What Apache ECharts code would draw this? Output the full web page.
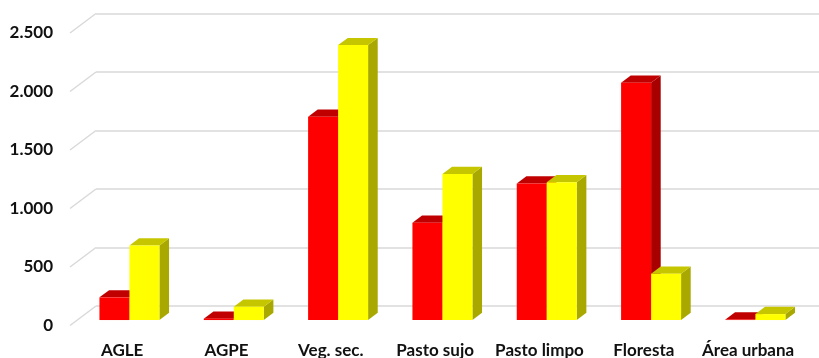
<!DOCTYPE html>
<html>
<head>
<meta charset="utf-8">
<script src="https://cdn.jsdelivr.net/npm/echarts@6/dist/echarts.min.js"></script>
<style>
  html, body { margin: 0; padding: 0; background: #ffffff; }
  #chart { width: 819px; height: 358px; }
</style>
</head>
<body>
<div id="chart"></div>
<script>
// Land-use classes and the two series compared per class
const categories = ['AGLE', 'AGPE', 'Veg. sec.', 'Pasto sujo', 'Pasto limpo', 'Floresta', 'Área urbana'];
const seriesRed = [194, 12, 1738, 832, 1168, 2028, 5];
const seriesYellow = [638, 114, 2350, 1248, 1177, 396, 51];
const yTicks = [0, 500, 1000, 1500, 2000, 2500];

// Oblique 3D projection: floor depth vector running from the front edge to the back wall
const WALL_DEPTH = [26, -19.5];
const BAR_FRONT = 0.72;   // bar front face, as a fraction of the depth measured from the back wall
const BAR_DEPTH = 0.37;   // bar thickness, as a fraction of the floor depth
const BAR_WIDTH = 0.2875; // each bar, as a fraction of the category band
const PLOT_WIDTH = 730.3; // width of the category run (back wall and front plane)

const RED = { front: '#ff0000', top: '#c00000', side: '#a80000' };
const YELLOW = { front: '#ffff00', top: '#c6c600', side: '#a8a800' };
const GRID_COLOR = '#d9d9d9';
const FONT = 'Lato, "Open Sans", sans-serif';

const fmt = v => String(v).replace(/\B(?=(\d{3})+(?!\d))/g, '.');

// Draws one 3D column: side face, top face, then the front face
function columnRenderer(side, colors) {
  return function (params, api) {
    const idx = api.value(0);
    const val = api.value(1);
    const base = api.coord([idx, 0]);
    const top = api.coord([idx, val]);
    const w = api.size([1, 0])[0] * BAR_WIDTH;
    const ox = -WALL_DEPTH[0] * BAR_FRONT;
    const oy = -WALL_DEPTH[1] * BAR_FRONT;
    const dx = WALL_DEPTH[0] * BAR_DEPTH;
    const dy = WALL_DEPTH[1] * BAR_DEPTH;
    const x0 = base[0] + ox + (side < 0 ? -w : 0);
    const x1 = x0 + w;
    const yb = base[1] + oy;
    const yt = top[1] + oy;
    return {
      type: 'group',
      children: [
        { type: 'polygon', shape: { points: [[x1, yb], [x1 + dx, yb + dy], [x1 + dx, yt + dy], [x1, yt]] },
          style: { fill: colors.side } },
        { type: 'polygon', shape: { points: [[x0, yt], [x0 + dx, yt + dy], [x1 + dx, yt + dy], [x1, yt]] },
          style: { fill: colors.top } },
        { type: 'rect', shape: { x: x0, y: yt, width: w, height: Math.max(yb - yt, 0) },
          style: { fill: colors.front } }
      ]
    };
  };
}

// Side wall: one diagonal per tick from the back wall's left edge to the front
function sideWallRenderer(params, api) {
  const p = api.coord([0, api.value(1)]);
  const x = params.coordSys.x;
  return {
    type: 'line',
    shape: { x1: x - WALL_DEPTH[0], y1: p[1] - WALL_DEPTH[1], x2: x, y2: p[1] },
    style: { stroke: GRID_COLOR, lineWidth: 1.5 }
  };
}

const chart = echarts.init(document.getElementById('chart'), null, { renderer: 'canvas' });

chart.setOption({
  animation: false,
  backgroundColor: '#ffffff',
  grid: [
    // back wall (runs past the right edge of the canvas)
    { left: 96, width: PLOT_WIDTH, top: 13.5, bottom: 52, outerBoundsMode: 'none' },
    // front plane (axis labels)
    { left: 70, width: PLOT_WIDTH, top: 33, bottom: 32.5, outerBoundsMode: 'none' }
  ],
  xAxis: [
    { type: 'category', gridIndex: 0, data: categories,
      axisLine: { show: false }, axisTick: { show: false }, axisLabel: { show: false } },
    { type: 'category', gridIndex: 1, data: categories,
      axisLine: { show: false }, axisTick: { show: false },
      axisLabel: { interval: 0, margin: 17, color: '#111', fontFamily: FONT, fontWeight: 'bold', fontSize: 17 } }
  ],
  yAxis: [
    { type: 'value', gridIndex: 0, min: 0, max: 2500, interval: 500,
      axisLine: { show: false }, axisTick: { show: false }, axisLabel: { show: false },
      splitLine: { show: true, lineStyle: { color: GRID_COLOR, width: 1.5 } } },
    { type: 'value', gridIndex: 1, min: 0, max: 2500, interval: 500,
      axisLine: { show: false }, axisTick: { show: false }, splitLine: { show: false },
      axisLabel: { margin: 17, color: '#111', fontFamily: FONT, fontWeight: 'bold', fontSize: 17,
        formatter: fmt } }
  ],
  series: [
    { type: 'custom', xAxisIndex: 0, yAxisIndex: 0, silent: true,
      renderItem: sideWallRenderer,
      data: yTicks.map(v => [0, v]) },
    { type: 'custom', name: 'red', xAxisIndex: 0, yAxisIndex: 0,
      renderItem: columnRenderer(-1, RED),
      data: seriesRed.map((v, i) => [i, v]) },
    { type: 'custom', name: 'yellow', xAxisIndex: 0, yAxisIndex: 0,
      renderItem: columnRenderer(1, YELLOW),
      data: seriesYellow.map((v, i) => [i, v]) }
  ]
});
</script>
</body>
</html>
